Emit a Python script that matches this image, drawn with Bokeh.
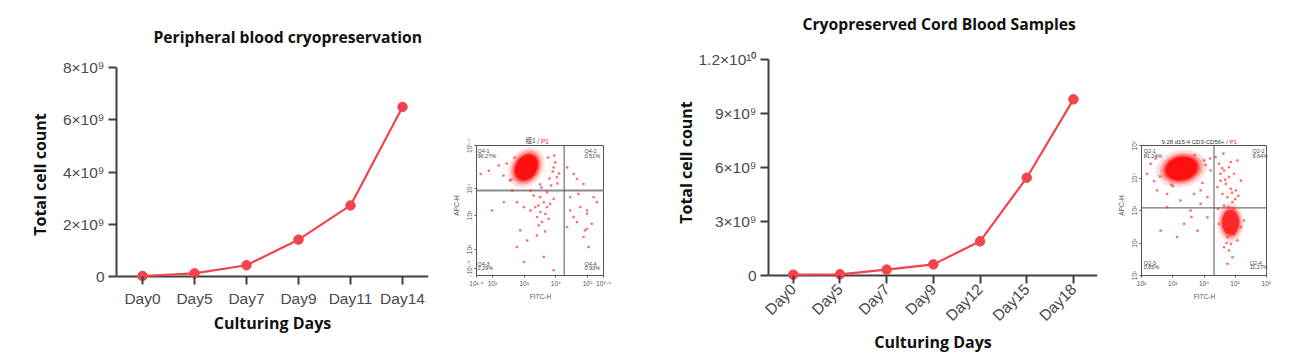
import math
from bokeh.plotting import figure
from bokeh.models import ColumnDataSource, FixedTicker, Label, Span
from bokeh.embed import file_html
from bokeh.resources import INLINE
from bokeh.core.templates import FILE

# ---------------- data ----------------
pb_title = "Peripheral blood cryopreservation"
pb_days = ["Day0", "Day5", "Day7", "Day9", "Day11", "Day14"]
pb_counts = [0.02e9, 0.12e9, 0.43e9, 1.41e9, 2.72e9, 6.49e9]
pb_yticks = [0, 2e9, 4e9, 6e9, 8e9]
pb_ylabels = ["0", "2×10⁹", "4×10⁹", "6×10⁹", "8×10⁹"]

cb_title = "Cryopreserved Cord Blood Samples"
cb_days = ["Day0", "Day5", "Day7", "Day9", "Day12", "Day15", "Day18"]
cb_counts = [0.05e9, 0.07e9, 0.33e9, 0.62e9, 1.90e9, 5.43e9, 9.78e9]
cb_yticks = [0, 3e9, 6e9, 9e9, 1.2e10]
cb_ylabels = ["0", "3×10⁹", "6×10⁹", "9×10⁹", "1.2×10¹⁰"]

x_title = "Culturing Days"
y_title = "Total cell count"

# flow cytometry panel 1 (FITC log10, APC display scale)
f1_title = "组1 / "
f1_xlim = [1.5, 5.5]
f1_ylim = [0, 130]
f1_xticks = [1.5, 2, 3, 4, 5, 5.5]
f1_xlabels = ["10¹·⁵", "10²", "10³", "10⁴", "10⁵", "10⁵·⁵"]
f1_yticks = [7, 26, 60, 87, 130]
f1_ylabels = ["-10¹·⁸", "10²", "10³", "10⁴", "10⁵·⁵"]
f1_gate = [4.26, 85]
f1_quads = ["Q4-1", "Q4-2", "Q4-3", "Q4-4"]
f1_pcts = ["96.27%", "0.51%", "2.29%", "0.93%"]
f1_cluster = [3.07, 108]
f1_fitc = [3.62, 3.72, 3.51, 3.41, 3.82, 3.67, 3.35, 3.93, 3.51, 3.77, 3.56, 3.46,
           3.20, 2.99, 2.78, 2.36, 1.99, 2.88, 2.78, 3.93, 3.62,
           4.35, 4.56, 4.66, 4.87, 4.45, 4.77, 4.98, 4.56, 4.66, 4.92, 4.87, 5.03,
           4.45, 5.19, 5.29, 4.35, 4.98, 4.71, 5.13, 4.98,
           1.63, 1.89, 2.99, 3.93, 3.98, 4.03, 2.62, 3.20, 3.72,
           3.55, 3.30, 3.85, 3.45, 2.55, 2.20, 3.66, 3.40, 4.10, 3.10,
           2.45, 2.60, 3.75, 3.90, 2.70, 3.50, 4.05, 2.35, 3.80, 3.95]
f1_apc = [73.3, 68.3, 63.3, 58.4, 71.6, 61.7, 68.3, 76.6, 78.3, 56.7, 53.4, 50.1,
          65.0, 68.3, 73.3, 73.3, 65.0, 45.1, 28.5, 5.3, 18.6,
          108.1, 101.5, 96.5, 91.5, 78.3, 68.3, 61.7, 58.4, 53.4, 45.1, 38.5, 28.5,
          65.0, 78.3, 73.3, 48.4, 65.0, 81.6, 51.7, 46.8,
          101.5, 104.8, 13.6, 108.1, 113.1, 98.2, 84.9, 84.9, 83.2,
          88.0, 80.0, 90.0, 70.0, 95.0, 110.0, 44.0, 40.0, 102.0, 35.0,
          112.0, 96.0, 118.0, 104.0, 118.0, 91.0, 92.0, 100.0, 97.0, 120.0]

# flow cytometry panel 2 (FITC log10, APC log10)
f2_title = "9.28 d15-4 CD3-CD56+ / "
f2_xlim = [2, 6]
f2_ylim = [1, 5]
f2_xticks = [2, 3, 4, 5, 6]
f2_xlabels = ["10²", "10³", "10⁴", "10⁵", "10⁶"]
f2_yticks = [1, 2, 3, 4, 5]
f2_ylabels = ["10¹", "10²", "10³", "10⁴", "10⁵"]
f2_gate = [4.32, 3.08]
f2_quads = ["Q2-1", "Q2-2", "Q2-3", "Q2-4"]
f2_pcts = ["81.24%", "6.64%", "0.85%", "11.27%"]
f2_cluster_a = [3.28, 4.29]
f2_cluster_b = [4.85, 2.63]
f2_fitc = [4.48, 4.64, 4.80, 4.96, 4.53, 4.70, 4.86, 4.59, 4.75, 4.91, 4.64, 5.07,
           4.43, 5.18, 4.80, 5.02, 4.53, 4.37, 4.86,
           4.75, 4.86, 4.96, 4.70, 4.80, 4.91, 4.64, 5.07, 4.75, 5.18, 5.28, 4.48,
           2.82, 3.25, 3.57, 3.89, 4.11, 2.61, 3.36, 3.14, 3.79,
           3.89, 4.11, 3.68, 2.82, 2.50, 4.00, 4.21, 2.29, 2.18,
           4.68, 4.90, 4.58, 5.00, 4.72, 4.45, 3.00, 3.60, 2.40, 4.20,
           2.60, 2.45, 3.95, 4.05, 3.70, 2.95, 4.62, 4.95, 4.78, 5.10]
f2_apc = [4.44, 4.23, 4.33, 4.13, 3.92, 3.82, 3.67, 3.51, 3.41, 3.26, 3.15, 4.54,
          3.72, 3.92, 4.03, 3.62, 4.13, 4.64, 4.49,
          2.18, 1.97, 2.28, 2.38, 1.77, 1.56, 1.87, 2.08, 1.36, 2.49, 2.69, 2.59,
          3.10, 3.31, 3.00, 3.21, 2.79, 2.38, 2.59, 2.18, 2.38,
          3.62, 3.41, 3.51, 3.51, 3.62, 4.54, 4.23, 4.44, 4.13,
          3.95, 3.55, 4.30, 3.35, 2.00, 3.05, 3.75, 2.80, 3.90, 4.60,
          4.05, 4.60, 3.85, 4.40, 4.70, 3.80, 4.75, 3.05, 3.10, 3.45]

# ---------------- styles ----------------
RED = "#f2444c"
AXIS = "#3f3f3f"
TICKTXT = "#4a4a4a"
BOLD_FONT = "Open Sans"
TICK_FONT = "Liberation Sans"
DOT = "#ff2a2a"
GRAYTXT = "#555555"
BOX = "#555555"
H = 356


def line_chart(title, days, counts, yticks, ylabels, pad_px, top_px, x_lo, x_hi, width,
               borders, title_offset, title_standoff, rotate, ylab_standoff, xlab_standoff):
    left, right, top, bottom = borders
    ymax = yticks[-1]
    frame_h = H - top - bottom
    per_px = ymax / (frame_h - pad_px - top_px)
    p = figure(width=width, height=H, x_range=(x_lo, x_hi),
               y_range=(-pad_px * per_px, ymax + top_px * per_px),
               output_backend="svg", toolbar_location=None,
               min_border_left=left, min_border_right=right,
               min_border_top=top, min_border_bottom=bottom)
    p.grid.visible = False
    p.outline_line_color = None
    p.title.text = title
    p.title.align = "left"
    p.title.offset = title_offset
    p.title.standoff = title_standoff
    p.title.text_font = BOLD_FONT
    p.title.text_font_size = "15.7px"
    p.title.text_font_style = "bold"
    p.title.text_color = "#111111"

    # zero baseline (x axis line)
    p.add_layout(Span(location=0, dimension="width", line_color=AXIS,
                      line_width=2, level="underlay"))

    idx = list(range(len(days)))
    src = ColumnDataSource(dict(x=idx, y=counts))
    p.line("x", "y", source=src, line_color=RED, line_width=2.2)
    p.scatter("x", "y", source=src, size=9.5, fill_color=RED, line_color=RED)

    xa = p.xaxis[0]
    xa.ticker = FixedTicker(ticks=idx)
    xa.major_label_overrides = {i: d for i, d in enumerate(days)}
    ya = p.yaxis[0]
    ya.ticker = FixedTicker(ticks=yticks)
    ya.major_label_overrides = {t: l for t, l in zip(yticks, ylabels)}
    ya.bounds = (0, ymax)
    for ax in (xa, ya):
        ax.axis_line_color = AXIS
        ax.axis_line_width = 2
        ax.major_tick_line_color = AXIS
        ax.major_tick_line_width = 2
        ax.minor_tick_line_color = None
        ax.major_label_text_font = TICK_FONT
        ax.major_label_text_font_size = "15.5px"
        ax.major_label_text_color = TICKTXT
        ax.axis_label_text_font = BOLD_FONT
        ax.axis_label_text_font_size = "16px"
        ax.axis_label_text_font_style = "bold"
        ax.axis_label_text_color = "#111111"
    xa.axis_line_color = None
    xa.major_tick_in = pad_px
    xa.major_tick_out = 3
    ya.major_tick_in = 0
    ya.major_tick_out = 8
    xa.axis_label = x_title
    ya.axis_label = y_title
    ya.major_label_standoff = 4
    ya.axis_label_standoff = ylab_standoff
    xa.axis_label_standoff = xlab_standoff
    if rotate:
        xa.major_label_orientation = math.pi / 4
        xa.major_label_standoff = 3
    else:
        xa.major_label_standoff = 5
    return p


def flow_plot(width, left, right, xlim, ylim, xticks, xlabels, yticks, ylabels, gate,
              hline_color, hline_width):
    box_w = width - left - right - 1
    box_h = 130
    xr_extra = (xlim[1] - xlim[0]) / box_w          # one pixel beyond the right edge
    yr_extra = (ylim[1] - ylim[0]) * 10 / box_h       # ten pixels above for the title
    p = figure(width=width, height=H,
               x_range=(xlim[0], xlim[1] + xr_extra), y_range=(ylim[0], ylim[1] + yr_extra),
               output_backend="svg", toolbar_location=None,
               min_border_left=left, min_border_right=right,
               min_border_top=135, min_border_bottom=81)
    p.grid.visible = False
    p.outline_line_color = None
    p.title.visible = False
    p.quad(left=[xlim[0]], right=[xlim[1]], bottom=[ylim[0]], top=[ylim[1]],
           fill_color=None, line_color=BOX, line_width=1)
    p.segment(x0=[xlim[0]], y0=[gate[1]], x1=[xlim[1]], y1=[gate[1]],
              line_color=hline_color, line_width=hline_width)
    p.segment(x0=[gate[0]], y0=[ylim[0]], x1=[gate[0]], y1=[ylim[1]],
              line_color=BOX, line_width=1)
    xa = p.xaxis[0]
    ya = p.yaxis[0]
    xa.ticker = FixedTicker(ticks=xticks)
    xa.major_label_overrides = {t: l for t, l in zip(xticks, xlabels)}
    xa.bounds = (xlim[0], xlim[1])
    ya.ticker = FixedTicker(ticks=yticks)
    ya.major_label_overrides = {t: l for t, l in zip(yticks, ylabels)}
    ya.major_label_orientation = "vertical"
    ya.bounds = (ylim[0], ylim[1])
    for ax in (xa, ya):
        ax.axis_line_color = BOX
        ax.axis_line_width = 1
        ax.major_tick_line_color = BOX
        ax.major_tick_out = 2
        ax.major_tick_in = 0
        ax.minor_tick_line_color = None
        ax.major_label_text_font = TICK_FONT
        ax.major_label_text_font_size = "6.5px"
        ax.major_label_text_color = GRAYTXT
        ax.major_label_standoff = 2
        ax.axis_label_text_font = TICK_FONT
        ax.axis_label_text_font_size = "6.5px"
        ax.axis_label_text_font_style = "normal"
        ax.axis_label_text_color = GRAYTXT
        ax.axis_label_standoff = 3
    xa.axis_label = "FITC-H"
    ya.axis_label = "APC-H"
    return p


def cluster(p, cx, cy, w, h, ang, alpha_scale=1.0):
    layers = [(1.6, 0.14), (1.35, 0.3), (1.15, 0.55), (1.0, 1.0)]
    for k, a in layers:
        p.ellipse(x=[cx], y=[cy], width=w * k, height=h * k, angle=ang,
                  width_units="screen", height_units="screen",
                  fill_color="#ff1010", fill_alpha=a * alpha_scale, line_color=None)


def quad_labels(p, quads, pcts, xl, xr1, xr2, yt1, yt2, yb1, yb2):
    pos = [(xl, yt1, yt2), (xr1, yt1, yt2), (xl, yb1, yb2), (xr2, yb1, yb2)]
    for (x, y1, y2), q, pc in zip(pos, quads, pcts):
        for yy, tx in ((y1, q), (y2, pc)):
            p.add_layout(Label(x=x, y=yy, text=tx, text_font=TICK_FONT,
                               text_font_size="5.5px", text_color="#444444",
                               text_baseline="middle", text_align="left"))


def flow_title(p, x, y, text, font, size):
    p.add_layout(Label(x=x, y=y, y_offset=1, text=text, text_align="right",
                       text_baseline="bottom", text_font=font,
                       text_font_size=size, text_color="#333333"))
    p.add_layout(Label(x=x, y=y, y_offset=1, text="P1", text_align="left",
                       text_baseline="bottom", text_font=TICK_FONT,
                       text_font_size=size, text_color="#ff2020"))


# ---------------- figure A: peripheral blood ----------------
pA = line_chart(pb_title, pb_days, pb_counts, pb_yticks, pb_ylabels, 5, 0,
                -0.5, 5.5, 445, (116, 17, 67, 75), 37, 40, False, 9, 2)

# ---------------- figure B: flow 1 ----------------
pB = flow_plot(215, 31, 56, f1_xlim, f1_ylim, f1_xticks, f1_xlabels, f1_yticks, f1_ylabels,
               f1_gate, "#8a8a8a", 2)
cluster(pB, f1_cluster[0], f1_cluster[1], 27, 21, 1.0)
pB.scatter(f1_fitc, f1_apc, marker="square", size=1.6, color=DOT, alpha=0.5)
quad_labels(pB, f1_quads, f1_pcts, 1.53, 4.90, 4.90, 124.3, 119.5, 12.0, 7.2)
flow_title(pB, 3.53, f1_ylim[1], f1_title, "Noto Sans CJK SC", "6.5px")

# ---------------- figure C: cord blood ----------------
pC = line_chart(cb_title, cb_days, cb_counts, cb_yticks, cb_ylabels, 5, 15,
                -0.53, 6.515, 445, (108, 8, 42, 76), 34, 20, True, -2, -2)

# ---------------- figure D: flow 2 ----------------
pD = flow_plot(210, 36, 48, f2_xlim, f2_ylim, f2_xticks, f2_xlabels, f2_yticks, f2_ylabels,
               f2_gate, BOX, 1)
cluster(pD, f2_cluster_a[0], f2_cluster_a[1], 32, 23, 0.2)
cluster(pD, f2_cluster_b[0], f2_cluster_b[1], 17, 25, 0.0, 0.75)
pD.scatter(f2_fitc, f2_apc, marker="square", size=1.6, color=DOT, alpha=0.5)
quad_labels(pD, f2_quads, f2_pcts, 2.07, 5.55, 5.46, 4.82, 4.69, 1.40, 1.25)
flow_title(pD, 4.82, f2_ylim[1], f2_title, TICK_FONT, "6px")

# independent roots laid out side by side (no cross-plot frame alignment)
STYLE = ("<style>body{display:flex !important;flex-direction:row;flex-wrap:nowrap;"
         "align-items:flex-start;}</style>")
template = FILE.environment.from_string(
    '{% extends "file.html" %}'
    '{% block preamble %}' + STYLE + '{% endblock %}'
    '{% block postamble %}' + STYLE + '{% endblock %}'
)
open("out.html", "w").write(file_html([pA, pB, pC, pD], INLINE, template=template))
